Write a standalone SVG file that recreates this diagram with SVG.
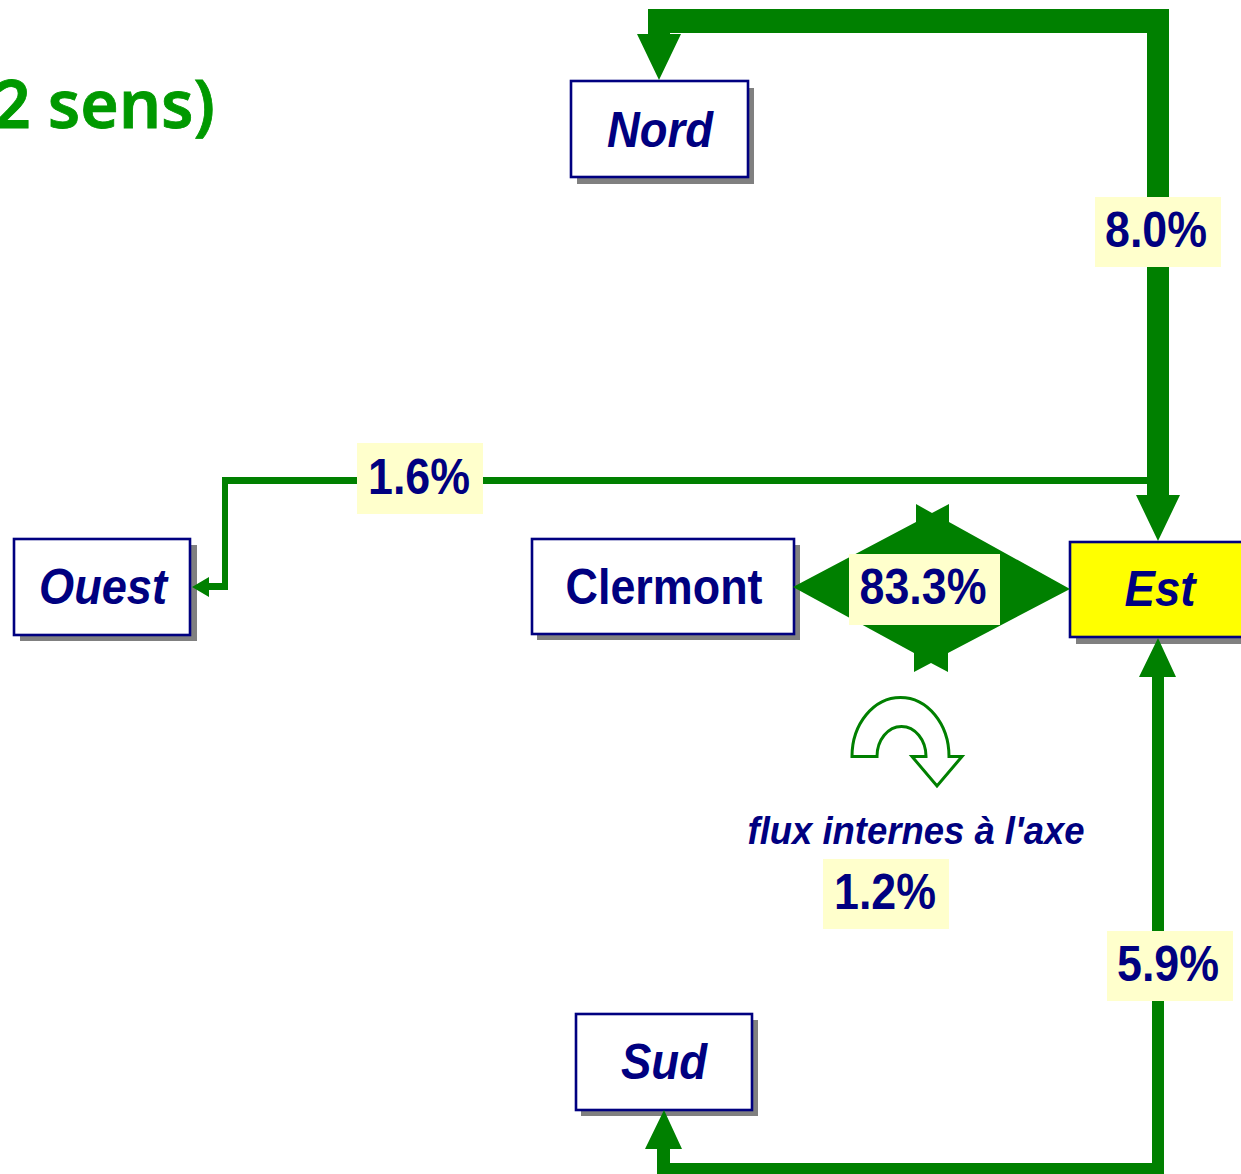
<svg xmlns="http://www.w3.org/2000/svg" width="1241" height="1174" viewBox="0 0 1241 1174">
<style>
.shadow{fill:#808080}
.box{fill:#fff;stroke:#000080;stroke-width:2.6}
.flow{fill:#008000}
.lbl{fill:#ffffcc}
text{font-family:"Liberation Sans",Arial,sans-serif;font-weight:bold;fill:#000080}
.n{font-size:50px;text-anchor:middle}
.i{font-style:italic}
</style>
<rect width="1241" height="1174" fill="#fff"/>
<text x="215" y="128" style="font-family:'Noto Sans',sans-serif;font-size:66px;font-weight:600;fill:#009900;text-anchor:end" stroke="#009900" stroke-width="0.8">2 sens)</text>
<g id="node-nord"><rect class="shadow" x="577" y="88" width="177" height="96"/><rect class="box" x="571" y="81" width="177" height="96"/><text class="n i" x="660" y="147" textLength="106" lengthAdjust="spacingAndGlyphs">Nord</text></g>
<g id="node-ouest"><rect class="shadow" x="20" y="545" width="177" height="96"/><rect class="box" x="14" y="539" width="176" height="96"/><text class="n i" x="103" y="604" textLength="128" lengthAdjust="spacingAndGlyphs">Ouest</text></g>
<g id="node-clermont"><rect class="shadow" x="537" y="545" width="263" height="95"/><rect class="box" x="532" y="539" width="262" height="95"/><text class="n" x="664" y="604" textLength="197" lengthAdjust="spacingAndGlyphs">Clermont</text></g>
<g id="node-est"><rect class="shadow" x="1076" y="548" width="177" height="96"/><rect fill="#ffff00" stroke="#000080" stroke-width="2.6" x="1070" y="542" width="177" height="95"/><text class="n i" x="1160" y="606" textLength="71" lengthAdjust="spacingAndGlyphs">Est</text></g>
<g id="node-sud"><rect class="shadow" x="581" y="1020" width="177" height="96"/><rect class="box" x="576" y="1014" width="176" height="96"/><text class="n i" x="664" y="1079" textLength="86" lengthAdjust="spacingAndGlyphs">Sud</text></g>
<g id="connectors">
<path class="flow" d="M648 9H1169V495H1180L1158 541L1136 495H1147V33H670V34H681L659 80L637 34H648Z"/>
<path class="flow" d="M1147 477H222V583H209V577L192 587L209 597V590H228V484H1147Z"/>
<path class="flow" d="M793 587L916 522V504L932 513L949 504V522L1070 589L948 653V672L931 663L914 672V653Z"/>
<path class="flow" d="M1158 638L1176 677H1164V1174H657V1149H645L664 1110L682 1149H670V1163H1152V677H1139Z"/>
<path fill="#fff" stroke="#008000" stroke-width="3" d="M852 756.500A48.500 59 0 0 1 949 756.500H962L937 786L912 756.500H926A24.500 30 0 0 0 877 756.500Z"/>
</g>
<g id="label-8"><rect class="lbl" x="1095" y="197" width="126" height="70"/><text class="n" x="1156" y="247" textLength="102" lengthAdjust="spacingAndGlyphs">8.0%</text></g>
<g id="label-16"><rect class="lbl" x="357" y="443" width="126" height="71"/><text class="n" x="419" y="494" textLength="102" lengthAdjust="spacingAndGlyphs">1.6%</text></g>
<g id="label-833"><rect class="lbl" x="849" y="554" width="151" height="71"/><text class="n" x="923" y="604" textLength="127" lengthAdjust="spacingAndGlyphs">83.3%</text></g>
<g id="label-59"><rect class="lbl" x="1107" y="931" width="126" height="70"/><text class="n" x="1168" y="981" textLength="102" lengthAdjust="spacingAndGlyphs">5.9%</text></g>
<g id="label-12"><rect class="lbl" x="823" y="859" width="126" height="70"/><text class="n" x="885" y="909" textLength="102" lengthAdjust="spacingAndGlyphs">1.2%</text></g>
<text class="i" x="916" y="844" style="font-size:38px;text-anchor:middle" textLength="337" lengthAdjust="spacingAndGlyphs">flux internes à l'axe</text>
</svg>
